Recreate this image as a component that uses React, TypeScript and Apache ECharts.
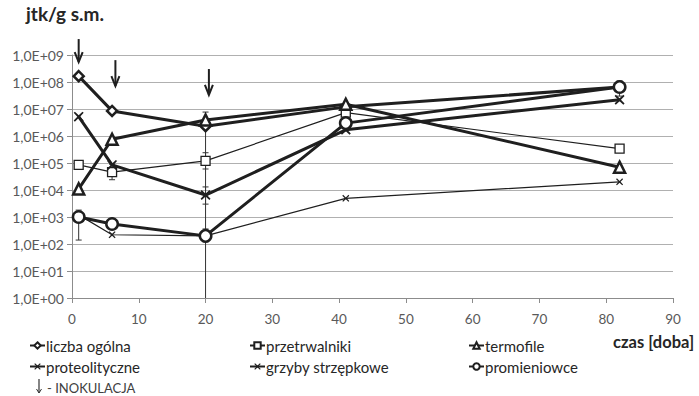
import React, { useEffect, useRef } from "react";
import * as echarts from "echarts";

const days = [1, 6, 20, 41, 82];
const xTicks = [0, 90, 10];
const yExponents = [0, 9];

const liczbaOgolna = [1.65e8, 8.5e6, 2.3e6, 1.2e7, 6.5e7];
const przetrwalniki = [8.5e4, 4.6e4, 1.2e5, 7.3e6, 3.4e5];
const termofile = [1.1e4, 7.6e5, 3.9e6, 1.5e7, 7.0e4];
const proteolityczne = [5.2e6, 8.5e4, 6.5e3, 1.7e6, 2.2e7];
const grzyby = [1.2e3, 2.2e2, 2.0e2, 4.9e3, 2.0e4];
const promieniowce = [1.0e3, 5.5e2, 2.0e2, 3.0e6, 6.5e7];

// [day, low, high]
const errorBars = [
  [1, 140, 1800],
  [6, 2.4e4, 9e4],
  [20, 6e4, 2.4e5],
  [20, 3e3, 1.3e4],
  [20, 1.2e2, 3.6e2],
  [20, 0.3, 7.7e6],
  [82, 3e7, 1.1e8],
];

// inoculation arrows [day, top, bottom]
const arrows = [
  [1, Math.pow(10, 9.59), Math.pow(10, 8.74)],
  [6.5, Math.pow(10, 8.81), Math.pow(10, 7.85)],
  [20.5, Math.pow(10, 8.48), Math.pow(10, 7.52)],
];

const FONT = "Lato";
const DARK = "#1f1f1f";
const X_PATH =
  "path://M1.2,0 L5,3.6 L8.8,0 L10,1.2 L6.4,5 L10,8.8 L8.8,10 L5,6.4 L1.2,10 L0,8.8 L3.6,5 L0,1.2 Z";

function pairs(vals: number[]) {
  return days.map((d, i) => [d, vals[i]]);
}

export default function App() {
  const ref = useRef<HTMLDivElement>(null);
  useEffect(() => {
    if (!ref.current) return;
    const chart = echarts.init(ref.current, undefined, { renderer: "svg" });

    const thick = (name: string, vals: number[], symbol: string, size: number, filled = false) => ({
      name,
      type: "line",
      data: pairs(vals),
      symbol,
      symbolSize: size,
      showAllSymbol: true,
      lineStyle: { color: DARK, width: 3 },
      itemStyle: filled
        ? { color: DARK, borderWidth: 0 }
        : { color: "#ffffff", borderColor: DARK, borderWidth: 2.5 },
      z: 3,
    });
    const thin = (name: string, vals: number[], symbol: string, size: number, filled = false) => ({
      name,
      type: "line",
      data: pairs(vals),
      symbol,
      symbolSize: size,
      lineStyle: { color: DARK, width: 1.2 },
      itemStyle: filled
        ? { color: DARK, borderWidth: 0 }
        : { color: "#ffffff", borderColor: DARK, borderWidth: 1.3 },
      z: 3,
    });

    const legendBase = {
      orient: "vertical",
      itemWidth: 15,
      itemHeight: 8,
      itemGap: 6,
      textStyle: { fontFamily: FONT, fontSize: 15, color: "#262626", padding: [0, 0, 0, -4] },
      padding: 0,
    };

    chart.setOption({
      animation: false,
      grid: { left: 72, right: 26, top: 55, bottom: 98 },
      xAxis: {
        type: "value",
        min: xTicks[0],
        max: xTicks[1],
        interval: xTicks[2],
        axisLine: { show: true, lineStyle: { color: "#8c8c8c" } },
        axisTick: { show: true, length: 5, lineStyle: { color: "#8c8c8c" } },
        axisLabel: { fontFamily: FONT, fontSize: 13.5, color: "#595959", margin: 14 },
        splitLine: { show: false },
      },
      yAxis: {
        type: "log",
        logBase: 10,
        min: Math.pow(10, yExponents[0]),
        max: Math.pow(10, yExponents[1]),
        axisLine: { show: true, lineStyle: { color: "#8c8c8c" } },
        axisTick: { show: true, length: 5, lineStyle: { color: "#8c8c8c" } },
        axisLabel: {
          fontFamily: FONT,
          fontSize: 14,
          color: "#595959",
          margin: 8,
          formatter: (v: number) => {
            const e = Math.round(Math.log10(v));
            return "1,0E+" + (e < 10 ? "0" + e : "" + e);
          },
        },
        splitLine: { show: true, lineStyle: { color: "#b0b0b0", width: 1 } },
        minorTick: { show: false },
      },
      legend: [
        { ...legendBase, left: 29, top: 338, data: ["liczba ogólna", "proteolityczne"] },
        { ...legendBase, left: 249, top: 338, data: ["przetrwalniki", "grzyby strzępkowe"] },
        { ...legendBase, left: 468, top: 338, data: ["termofile", "promieniowce"] },
      ],
      series: [
        {
          type: "custom",
          name: "err",
          clip: true,
          z: 1,
          data: errorBars,
          encode: { x: 0, y: [1, 2] },
          renderItem: (params: any, api: any) => {
            const x = api.value(0);
            const p1 = api.coord([x, api.value(2)]);
            const p2 = api.coord([x, api.value(1)]);
            const st = { stroke: "#333333", lineWidth: 1 };
            return {
              type: "group",
              children: [
                { type: "line", shape: { x1: p1[0], y1: p1[1], x2: p2[0], y2: p2[1] }, style: st },
                { type: "line", shape: { x1: p1[0] - 3, y1: p1[1], x2: p1[0] + 3, y2: p1[1] }, style: st },
                { type: "line", shape: { x1: p2[0] - 3, y1: p2[1], x2: p2[0] + 3, y2: p2[1] }, style: st },
              ],
            };
          },
        },
        {
          type: "custom",
          name: "arrows",
          clip: false,
          z: 5,
          data: arrows,
          encode: { x: 0, y: [1, 2] },
          renderItem: (params: any, api: any) => {
            const x = api.value(0);
            const p1 = api.coord([x, api.value(1)]);
            const p2 = api.coord([x, api.value(2)]);
            const st = { stroke: DARK, lineWidth: 2, fill: "none" };
            return {
              type: "group",
              children: [
                { type: "line", shape: { x1: p1[0], y1: p1[1], x2: p2[0], y2: p2[1] }, style: st },
                {
                  type: "polyline",
                  shape: { points: [[p2[0] - 4, p2[1] - 10], [p2[0], p2[1]], [p2[0] + 4, p2[1] - 10]] },
                  style: st,
                },
              ],
            };
          },
        },
        thick("liczba ogólna", liczbaOgolna, "diamond", 10),
        thin("przetrwalniki", przetrwalniki, "rect", 9),
        thick("termofile", termofile, "triangle", 11),
        thick("proteolityczne", proteolityczne, X_PATH, 10, true),
        thin("grzyby strzępkowe", grzyby, X_PATH, 7, true),
        thick("promieniowce", promieniowce, "circle", 11.5),
      ],
      graphic: [
        {
          type: "text",
          left: 26,
          top: 4,
          style: { text: "jtk/g s.m.", fontFamily: FONT, fontSize: 19, fontWeight: "bold", fill: "#262626" },
        },
        {
          type: "text",
          left: 613,
          top: 333,
          style: { text: "czas [doba]", fontFamily: FONT, fontSize: 16.5, fontWeight: "bold", fill: "#262626" },
        },
        {
          type: "line",
          shape: { x1: 39, y1: 379, x2: 39, y2: 393 },
          style: { stroke: "#333", lineWidth: 1.2 },
        },
        {
          type: "polyline",
          shape: { points: [[36.5, 389], [39, 393], [41.5, 389]] },
          style: { stroke: "#333", lineWidth: 1, fill: "none" },
        },
        {
          type: "text",
          left: 47,
          top: 381,
          style: { text: "- INOKULACJA", fontFamily: FONT, fontSize: 13, fill: "#404040" },
        },
      ],
    });
    return () => chart.dispose();
  }, []);
  return (
    <div
      ref={ref}
      style={{ position: "fixed", left: 0, top: 0, width: 699, height: 396, background: "#ffffff" }}
    />
  );
}
